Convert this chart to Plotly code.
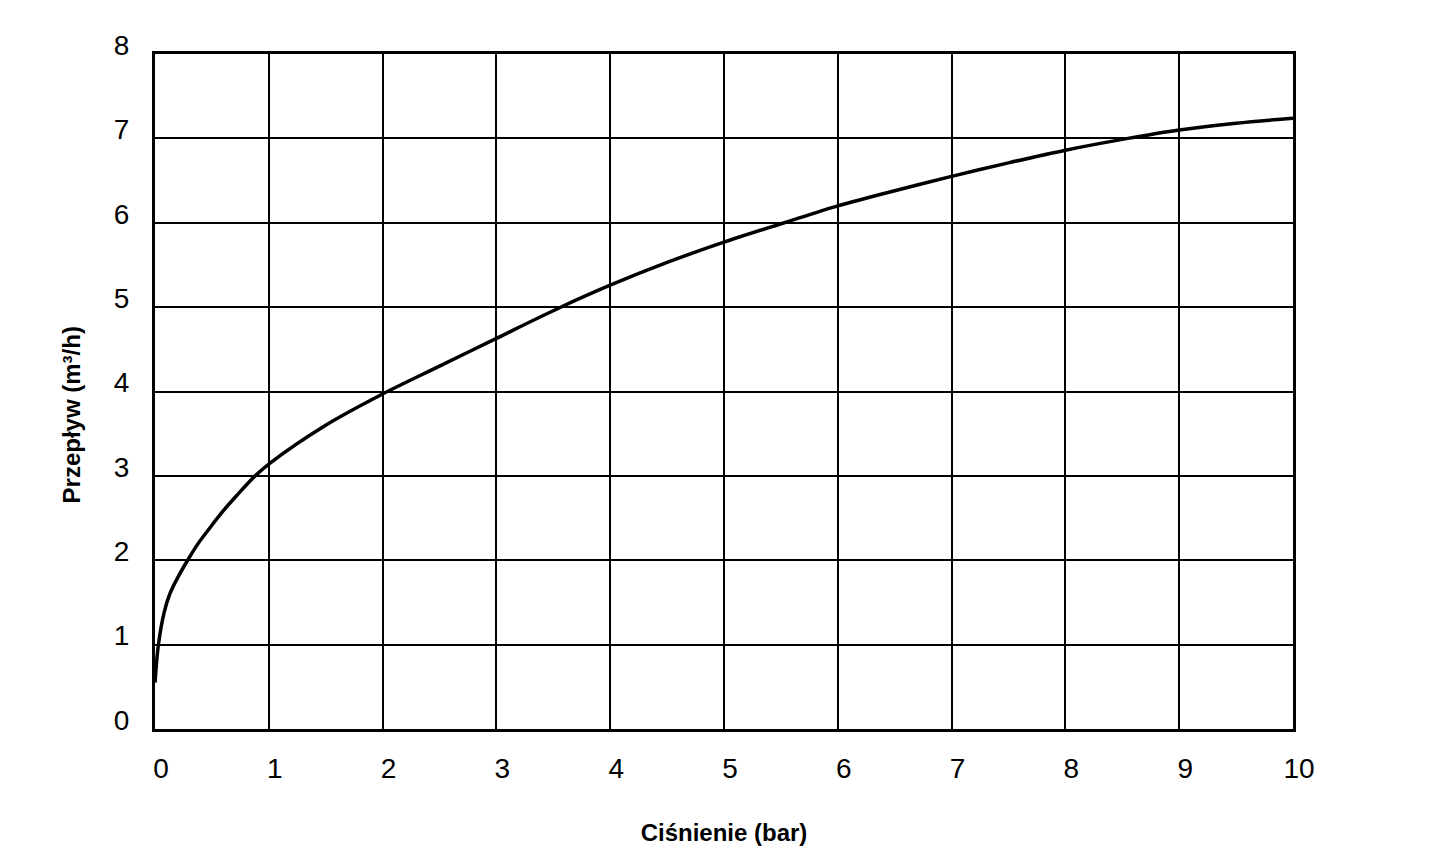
import plotly.graph_objects as go

# Ciśnienie (bar) vs Przepływ (m3/h)
cisnienie = [0, 0.03, 0.08, 0.13, 0.21, 0.3, 0.38, 0.48, 0.59, 0.72, 0.88, 1.0,
             1.5, 2, 2.5, 3, 3.55, 4, 4.5, 5, 5.53, 6, 6.5, 7, 7.5, 8, 8.55, 9, 9.5, 10]
przeplyw = [0.55, 1.0, 1.38, 1.6, 1.82, 2.03, 2.2, 2.38, 2.57, 2.77, 3.0, 3.14,
            3.6, 3.97, 4.3, 4.63, 4.99, 5.26, 5.53, 5.77, 6.0, 6.2, 6.38, 6.55, 6.71, 6.86, 7.0, 7.1, 7.18, 7.24]

x_ticks = list(range(0, 11))
y_ticks = list(range(0, 9))

font_name = 'Arial, Liberation Sans, sans-serif'

fig = go.Figure(go.Scatter(x=cisnienie, y=przeplyw, mode='lines',
                           line=dict(color='black', width=3.5, shape='spline', smoothing=0.9),
                           hoverinfo='skip'))

fig.update_layout(
    width=1440, height=857,
    margin=dict(l=147, r=155, t=46, b=136),
    paper_bgcolor='white', plot_bgcolor='white',
    showlegend=False,
    font=dict(family=font_name, color='black'),
)

fig.update_xaxes(range=[0, 10], tickvals=x_ticks, ticktext=[str(v) for v in x_ticks],
                 showgrid=True, gridcolor='black', gridwidth=1.6,
                 showline=True, linecolor='black', linewidth=3, mirror=True,
                 zeroline=False, ticks='', tickfont=dict(size=28),
                 ticklabelstandoff=12, ticklabelshift=6,
                 title=dict(text='<b>Ciśnienie (bar)</b>', font=dict(size=24), standoff=42))

fig.update_yaxes(range=[0, 8], tickvals=y_ticks, ticktext=[str(v) for v in y_ticks],
                 showgrid=True, gridcolor='black', gridwidth=1.6,
                 showline=True, linecolor='black', linewidth=3, mirror=True,
                 zeroline=False, ticks='', tickfont=dict(size=28),
                 ticklabelstandoff=17, ticklabelshift=-9)

# tytuł osi Y jako adnotacja (w oryginale lekko poniżej środka)
fig.add_annotation(text='<b>Przepływ (m³/h)</b>', textangle=-90, showarrow=False,
                   xref='paper', yref='paper', x=0, y=0.4645, xanchor='center', yanchor='middle',
                   xshift=-84, font=dict(size=24, family=font_name, color='black'))

fig.write_html('out.html')
